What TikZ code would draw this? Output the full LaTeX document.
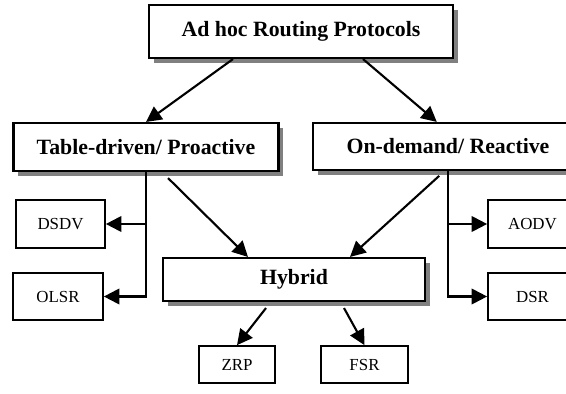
\documentclass[tikz,border=0pt]{standalone}
\usepackage{fontspec}
\setmainfont{Liberation Serif}
\usetikzlibrary{arrows.meta, shadows}

\begin{document}
\begin{tikzpicture}[x=0.025cm, y=-0.025cm,
  mainbox/.style={rectangle, draw=black, line width=1.5pt, fill=white, inner sep=0pt, font=\fontsize{15.5}{17}\selectfont\bfseries, drop shadow={shadow xshift=0.12cm, shadow yshift=-0.12cm, fill=black!50, opacity=1}},
  leafbox/.style={rectangle, draw=black, line width=1.2pt, fill=white, inner sep=0pt, font=\fontsize{12}{14}\selectfont},
  link/.style={line width=1.5pt, -{Triangle[length=11pt,width=11pt]}}]
\clip (0,0) rectangle (566,394);

% Root and the two families
\node[mainbox, minimum width=7.6cm, minimum height=1.325cm] (root) at (301,31.5) {Ad hoc Routing Protocols};
\node[mainbox, minimum width=6.625cm, minimum height=1.2cm] (table) at (146,147) {Table-driven/ Proactive};
\node[mainbox, minimum width=6.75cm, minimum height=1.175cm] (demand) at (448,146.5) {On-demand/ Reactive};
\node[mainbox, minimum width=6.55cm, minimum height=1.075cm] (hybrid) at (294,279.5) {Hybrid};

% Protocols
\node[leafbox, minimum width=2.225cm, minimum height=1.2cm] (dsdv) at (60.5,224) {DSDV};
\node[leafbox, minimum width=2.25cm, minimum height=1.175cm] (olsr) at (58,296.5) {OLSR};
\node[leafbox, minimum width=2.225cm, minimum height=1.2cm] (aodv) at (532.5,224) {AODV};
\node[leafbox, minimum width=2.225cm, minimum height=1.175cm] (dsr) at (532.5,296.5) {DSR};
\node[leafbox, minimum width=1.9cm, minimum height=0.925cm] (zrp) at (237,364.5) {ZRP};
\node[leafbox, minimum width=2.175cm, minimum height=0.925cm] (fsr) at (364.5,364.5) {FSR};

% Draw connections
\draw[link] ([xshift=-1.7cm]root.south) -- (table.north);
\draw[link] ([xshift=1.55cm]root.south) -- ([xshift=-0.28cm]demand.north);
\draw[link] ([xshift=0.55cm, yshift=-0.15cm]table.south) -- ([xshift=-1.15cm]hybrid.north);
\draw[link] ([xshift=-0.22cm, yshift=-0.12cm]demand.south) -- ([xshift=1.4cm]hybrid.north);
\draw[link] (table.south) |- (dsdv.east);
\draw[link] (table.south) |- (olsr.east);
\draw[link] (demand.south) |- (aodv.west);
\draw[link] (demand.south) |- (dsr.west);
\draw[link] ([xshift=-0.7cm, yshift=-0.15cm]hybrid.south) -- (zrp.north);
\draw[link] ([xshift=1.25cm, yshift=-0.15cm]hybrid.south) -- (fsr.north);
\end{tikzpicture}
\end{document}
